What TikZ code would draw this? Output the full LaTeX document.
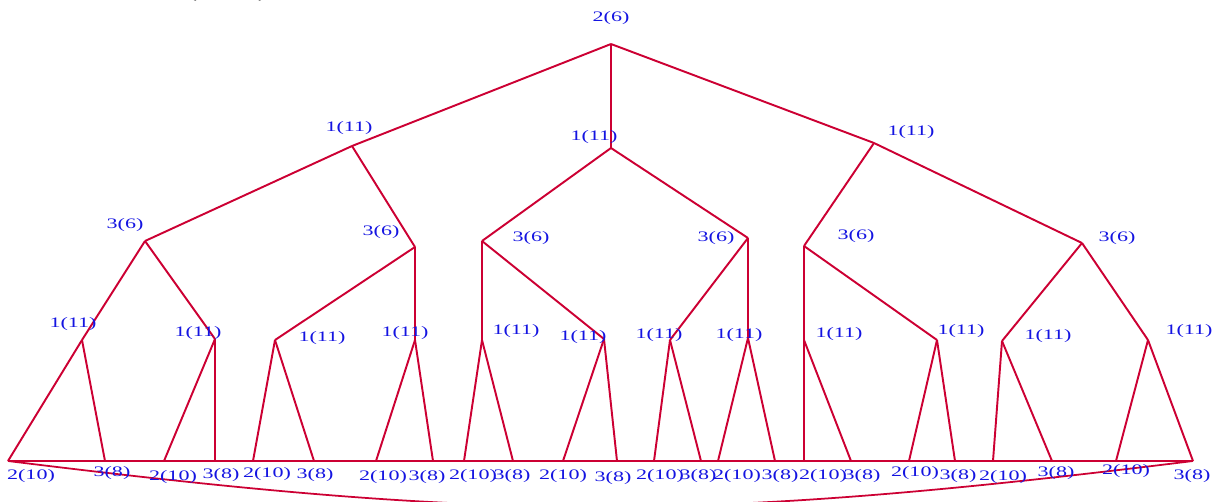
\documentclass[tikz,border=0pt]{standalone}
\usepackage{fontspec}
\setmainfont{Liberation Serif}
\definecolor{edgered}{RGB}{204,0,51}
\definecolor{labblue}{RGB}{20,20,225}
\newcommand\mylab[1]{\scalebox{1.52}[1]{#1}}
\begin{document}
\begin{tikzpicture}[x=0.02cm,y=-0.02cm,
  edge/.style={draw=edgered,line width=1.1pt,line join=round},
  lab/.style={text=labblue,inner sep=0pt,font=\fontsize{8.25}{9}\selectfont}]
\useasboundingbox (0,0) rectangle (1218,501);
% cut-off title at the top
\node[anchor=base,inner sep=0pt,text=black!70,font=\fontsize{8.25}{9}\selectfont] (title) at (227.5,-1.5) {\mylab{(}\hspace{34.8pt}\mylab{)}};
% tree vertices
\coordinate (r) at (611,44);
\coordinate (A) at (352,146);
\coordinate (B) at (611,148);
\coordinate (C) at (874,143);
\coordinate (A1) at (145,241);
\coordinate (A2) at (415,247);
\coordinate (B1) at (482,241);
\coordinate (B2) at (748,238);
\coordinate (C1) at (804,246);
\coordinate (C2) at (1082,243);
\coordinate (A1a) at (82,340);
\coordinate (A1b) at (215,339);
\coordinate (A2a) at (275,340);
\coordinate (A2b) at (415,340);
\coordinate (B1a) at (482,340);
\coordinate (B1b) at (604,339);
\coordinate (B2a) at (670,340);
\coordinate (B2b) at (748,338);
\coordinate (C1a) at (804,340);
\coordinate (C1b) at (937,340);
\coordinate (C2a) at (1002,341);
\coordinate (C2b) at (1148,340);
% leaves
\foreach \n/\x in {1/8,2/105,3/164,4/215,5/253,6/314,7/376,8/433,9/464,10/513,11/563,12/617,13/654,14/701,15/718,16/775,17/804,18/851,19/909,20/955,21/993,22/1052,23/1116,24/1193}
  \coordinate (l\n) at (\x,461);
% edges
\draw[edge] (r) -- (A); \draw[edge] (r) -- (B); \draw[edge] (r) -- (C);
\draw[edge] (A) -- (A1); \draw[edge] (A) -- (A2);
\draw[edge] (B) -- (B1); \draw[edge] (B) -- (B2);
\draw[edge] (C) -- (C1); \draw[edge] (C) -- (C2);
\draw[edge] (A1) -- (A1a); \draw[edge] (A1) -- (A1b);
\draw[edge] (A2) -- (A2a); \draw[edge] (A2) -- (A2b);
\draw[edge] (B1) -- (B1a); \draw[edge] (B1) -- (B1b);
\draw[edge] (B2) -- (B2a); \draw[edge] (B2) -- (B2b);
\draw[edge] (C1) -- (C1a); \draw[edge] (C1) -- (C1b);
\draw[edge] (C2) -- (C2a); \draw[edge] (C2) -- (C2b);
\draw[edge] (A1a) -- (l1); \draw[edge] (A1a) -- (l2);
\draw[edge] (A1b) -- (l3); \draw[edge] (A1b) -- (l4);
\draw[edge] (A2a) -- (l5); \draw[edge] (A2a) -- (l6);
\draw[edge] (A2b) -- (l7); \draw[edge] (A2b) -- (l8);
\draw[edge] (B1a) -- (l9); \draw[edge] (B1a) -- (l10);
\draw[edge] (B1b) -- (l11); \draw[edge] (B1b) -- (l12);
\draw[edge] (B2a) -- (l13); \draw[edge] (B2a) -- (l14);
\draw[edge] (B2b) -- (l15); \draw[edge] (B2b) -- (l16);
\draw[edge] (C1a) -- (l17); \draw[edge] (C1a) -- (l18);
\draw[edge] (C1b) -- (l19); \draw[edge] (C1b) -- (l20);
\draw[edge] (C2a) -- (l21); \draw[edge] (C2a) -- (l22);
\draw[edge] (C2b) -- (l23); \draw[edge] (C2b) -- (l24);
\draw[edge] (l1) -- (l24);
\draw[edge,line width=1pt] (l1) .. controls (500,522) and (700,522) .. (l24);
% labels
\node[lab] (tr) at (611,18) {\mylab{2(6)}};
\node[lab] (tA) at (349,128) {\mylab{1(11)}};
\node[lab] (tB) at (594,137) {\mylab{1(11)}};
\node[lab] (tC) at (911,132) {\mylab{1(11)}};
\node[lab] (tA1) at (125,225) {\mylab{3(6)}};
\node[lab] (tA2) at (381,232) {\mylab{3(6)}};
\node[lab] (tB1) at (531,238) {\mylab{3(6)}};
\node[lab] (tB2) at (716,238) {\mylab{3(6)}};
\node[lab] (tC1) at (856,236) {\mylab{3(6)}};
\node[lab] (tC2) at (1117,238) {\mylab{3(6)}};
\node[lab] (tA1a) at (73,324) {\mylab{1(11)}};
\node[lab] (tA1b) at (198,333) {\mylab{1(11)}};
\node[lab] (tA2a) at (322,338) {\mylab{1(11)}};
\node[lab] (tA2b) at (405,333) {\mylab{1(11)}};
\node[lab] (tB1a) at (516,331) {\mylab{1(11)}};
\node[lab] (tB1b) at (583,337) {\mylab{1(11)}};
\node[lab] (tB2a) at (659,335) {\mylab{1(11)}};
\node[lab] (tB2b) at (739,335) {\mylab{1(11)}};
\node[lab] (tC1a) at (839,334) {\mylab{1(11)}};
\node[lab] (tC1b) at (961,331) {\mylab{1(11)}};
\node[lab] (tC2a) at (1048,336) {\mylab{1(11)}};
\node[lab] (tC2b) at (1189,331) {\mylab{1(11)}};
\foreach \n/\x/\y/\t in {1/31/476/2(10),2/112/473/3(8),3/173/477/2(10),4/221/475/3(8),5/267/474/2(10),6/315/475/3(8),7/383/477/2(10),8/427/477/3(8),9/473/476/2(10),10/512/476/3(8),11/563/476/2(10),12/613/478/3(8),13/660/476/2(10),14/698/476/3(8),15/737/476/2(10),16/780/476/3(8),17/823/476/2(10),18/862/476/3(8),19/915/473/2(10),20/958/476/3(8),21/1003/477/2(10),22/1056/473/3(8),23/1126/471/2(10),24/1192/476/3(8)}
  \node[lab] (tl\n) at (\x,\y) {\mylab{\t}};
\end{tikzpicture}
\end{document}
